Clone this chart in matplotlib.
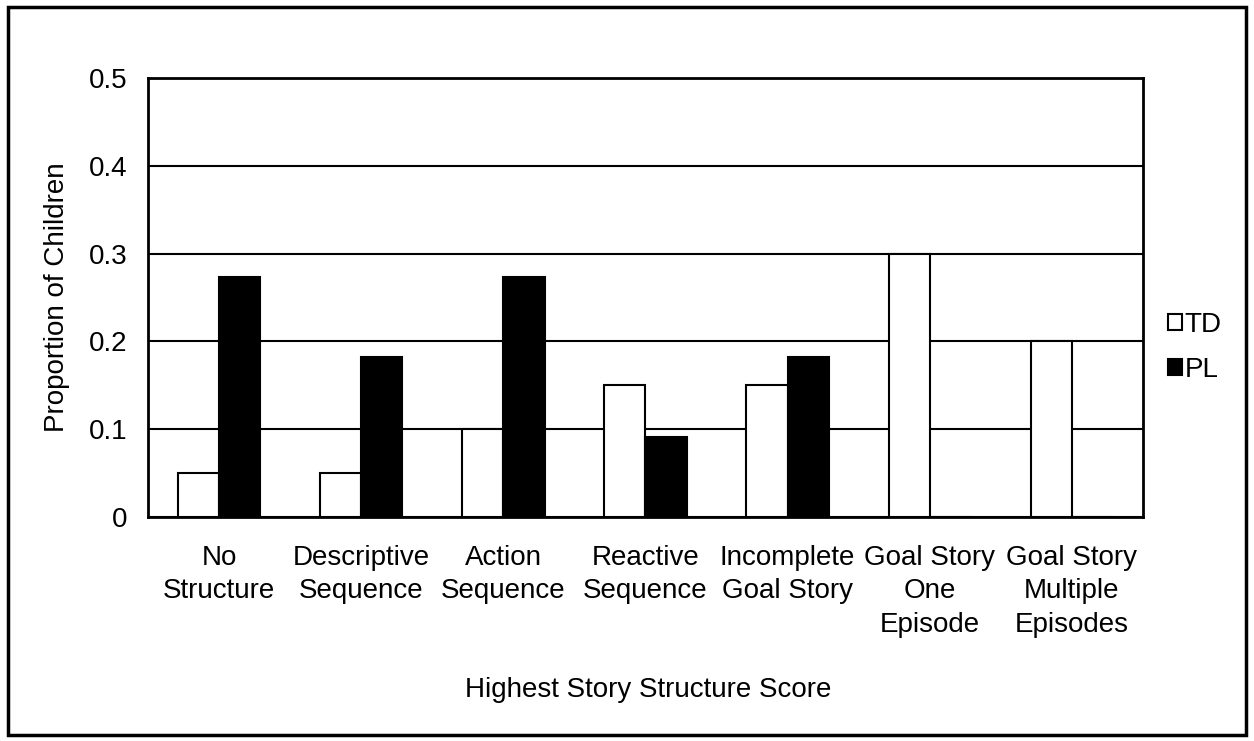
import numpy as np
import matplotlib.pyplot as plt
from matplotlib.patches import Rectangle

plt.rcParams['font.family'] = ['Liberation Sans', 'DejaVu Sans']

# Datos
categorias = ['No\nStructure', 'Descriptive\nSequence', 'Action\nSequence',
              'Reactive\nSequence', 'Incomplete\nGoal Story',
              'Goal Story\nOne\nEpisode', 'Goal Story\nMultiple\nEpisodes']
td = [0.05, 0.05, 0.10, 0.15, 0.15, 0.30, 0.20]
pl = [0.273, 0.182, 0.273, 0.091, 0.182, 0.0, 0.0]
yticks = [0, 0.1, 0.2, 0.3, 0.4, 0.5]

fs = 20

fig = plt.figure(figsize=(12.54, 7.41), dpi=100)
ax = fig.add_axes([0.118, 0.3023, 0.7935, 0.5924])

x = np.arange(len(categorias))
w = 0.29
ax.bar(x - w/2, td, w, color='white', edgecolor='black', linewidth=1.5, label='TD', zorder=3)
ax.bar(x + w/2, pl, w, color='black', edgecolor='black', linewidth=1.5, label='PL', zorder=3)

ax.set_xlim(-0.5, len(categorias) - 0.5)
ax.set_ylim(0, 0.5)
ax.set_yticks(yticks)
ax.set_yticklabels(['0', '0.1', '0.2', '0.3', '0.4', '0.5'])
ax.yaxis.grid(True, color='black', linewidth=1.5, zorder=0)
ax.set_axisbelow(True)
ax.tick_params(axis='both', length=0, labelsize=fs)
ax.tick_params(axis='y', pad=15)
ax.set_xticks(x)
ax.set_xticklabels(categorias, linespacing=1.38, va='top')
ax.tick_params(axis='x', pad=20)
for s in ax.spines.values():
    s.set_linewidth(2)

ax.set_ylabel('Proportion of Children', fontsize=fs, labelpad=13)
fig.text(0.5165, 0.069, 'Highest Story Structure Score', fontsize=fs, ha='center', va='center')

leg = ax.legend(loc='center left', bbox_to_anchor=(1.0, 0.386), frameon=False,
                fontsize=fs, handlelength=0.5, handleheight=0.5,
                handletextpad=0.1, labelspacing=0.7)

fig.patches.append(Rectangle((0.006, 0.008), 0.988, 0.983, transform=fig.transFigure,
                             fill=False, edgecolor='black', linewidth=2.5))

fig.savefig('out.png', dpi=100)
